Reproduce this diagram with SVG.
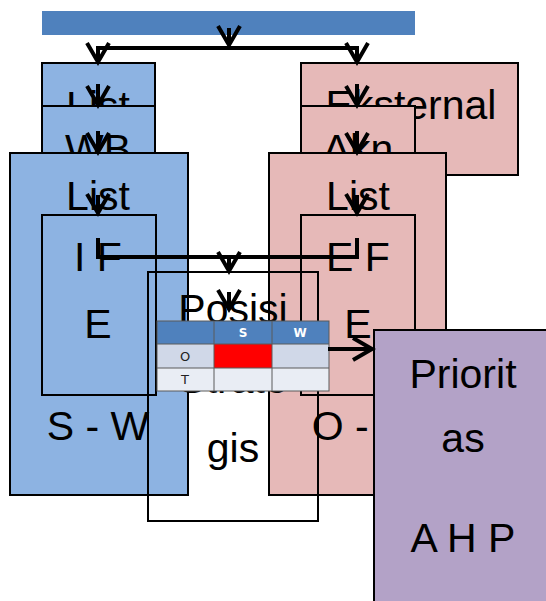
<svg xmlns="http://www.w3.org/2000/svg" width="546" height="601" viewBox="0 0 546 601">
<defs>
<style>
.b{fill:#8db3e2;stroke:#000;stroke-width:2}
.p{fill:#e6b9b8;stroke:#000;stroke-width:2}
.u{fill:#b3a2c7;stroke:#000;stroke-width:2}
.o{fill:none;stroke:#000;stroke-width:2}
.t{font-family:"Liberation Sans",Arial,sans-serif;font-size:41px;fill:#000;text-anchor:middle}
.c{fill:none;stroke:#000;stroke-width:4}
.a{fill:none;stroke:#000;stroke-width:4;marker-end:url(#v)}
.tc{stroke:#5a5a5a;stroke-width:1}
.th{font-family:"DejaVu Sans",Verdana,sans-serif;font-size:12px;font-weight:bold;fill:#fff;text-anchor:middle}
.tt{font-family:"DejaVu Sans",Verdana,sans-serif;font-size:13px;fill:#222;text-anchor:middle}
</style>
<marker id="v" viewBox="-22 -14 28 28" markerWidth="28" markerHeight="28" refX="0" refY="0" orient="auto" markerUnits="userSpaceOnUse" overflow="visible">
<path d="M-19,-11 L0,0 L-19,11" fill="none" stroke="#000" stroke-width="4"/>
</marker>
</defs>
<g id="bar"><rect x="42" y="11" width="373" height="24" fill="#4f81bd"/></g>
<g id="left-a"><rect class="b" x="42" y="63" width="113" height="44"/><text class="t" x="98" y="120">List</text></g>
<g id="left-b"><rect class="b" x="42" y="106" width="113" height="48"/><text class="t" x="98" y="163">WB</text></g>
<g id="left-c"><rect class="b" x="10" y="153" width="178" height="342"/><text class="t" x="98" y="210">List</text><text class="t" x="98" y="440">S - W</text></g>
<g id="left-d"><rect class="b" x="42" y="215" width="114" height="180"/><text class="t" x="98" y="271">I F</text><text class="t" x="98" y="338">E</text></g>
<g id="right-a"><rect class="p" x="301" y="63" width="217" height="112"/><text class="t" x="411" y="119">Eksternal</text></g>
<g id="right-b"><rect class="p" x="301" y="106" width="114" height="48"/><text class="t" x="358" y="163">Akn</text></g>
<g id="right-c"><rect class="p" x="269" y="153" width="177" height="342"/><text class="t" x="358" y="210">List</text><text class="t" x="358" y="440">O - T</text></g>
<g id="right-d"><rect class="p" x="301" y="215" width="114" height="180"/><text class="t" x="358" y="271">E F</text><text class="t" x="358" y="338">E</text></g>
<g id="posisi"><rect class="o" x="148" y="272" width="170" height="249"/><text class="t" x="233" y="323">Posisi</text><text class="t" x="233" y="393">Strate</text><text class="t" x="233" y="462">gis</text></g>
<g id="matrix">
<rect x="157" y="321" width="172" height="23" fill="#4f81bd"/>
<rect x="157" y="344" width="57" height="24" fill="#d0d8e8"/>
<rect x="214" y="344" width="58" height="24" fill="#ff0000"/>
<rect x="272" y="344" width="57" height="24" fill="#d0d8e8"/>
<rect x="157" y="368" width="172" height="23" fill="#e9edf4"/>
<g class="tc"><rect x="157" y="321" width="172" height="70" fill="none"/><line x1="157" y1="344" x2="329" y2="344"/><line x1="157" y1="368" x2="329" y2="368"/><line x1="214" y1="321" x2="214" y2="391"/><line x1="272" y1="321" x2="272" y2="391"/></g>
<text class="th" x="243" y="337">S</text><text class="th" x="300" y="337">W</text>
<text class="tt" x="185" y="361">O</text><text class="tt" x="185" y="384">T</text>
</g>
<g id="prioritas"><rect class="u" x="374" y="330" width="190" height="290"/><text class="t" x="463" y="388">Priorit</text><text class="t" x="463" y="452">as</text><text class="t" x="463" y="552">A H P</text></g>
<g id="connectors">
<path class="a" d="M229,28 V45"/>
<path class="a" d="M229,48 H98 V62"/>
<path class="a" d="M229,48 H357 V62"/>
<path class="a" d="M98,84 V105"/>
<path class="a" d="M98,131 V152"/>
<path class="a" d="M98,195 V213"/>
<path class="a" d="M357,84 V105"/>
<path class="a" d="M357,131 V152"/>
<path class="a" d="M357,195 V213"/>
<path class="c" d="M98,238 V257 H229"/>
<path class="c" d="M357,238 V257 H229"/>
<path class="a" d="M229,257 V271"/>
<path class="a" d="M229,292 V309"/>
<path class="a" d="M328,349 H372"/>
</g>
</svg>
